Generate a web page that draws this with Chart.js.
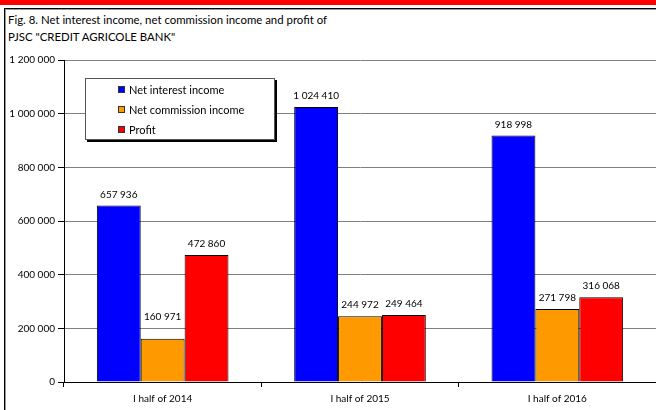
<!DOCTYPE html>
<html>
<head>
<meta charset="utf-8">
<script src="https://cdn.jsdelivr.net/npm/chart.js@4.4.1/dist/chart.umd.min.js"></script>
<style>
 body { margin: 0; background: #fff; }
 #wrap { position: relative; width: 656px; height: 410px; overflow: hidden; }
 #band { position: absolute; left: 0; top: 0; width: 656px; height: 5px; background: #ff0000; }
 #frame { position: absolute; left: 4px; top: 8px; width: 660px; height: 410px;
  border-left: 1px solid #000; border-top: 1px solid #000; box-shadow: inset 1px 1px 0 #999; }
 #title { position: absolute; left: 8px; top: 11px; font: 11.4px Lato, sans-serif; line-height: 17px; color: #000; }
 #chart { position: absolute; left: 0; top: 0; }
</style>
</head>
<body>
<div id="wrap">
 <div id="band"></div>
 <div id="frame"></div>
 <div id="title">Fig. 8. Net interest income, net commission income and profit of<br>PJSC "CREDIT AGRICOLE BANK"</div>
 <canvas id="chart" width="656" height="410"></canvas>
</div>
<script>
const periods = ["I half of 2014", "I half of 2015", "I half of 2016"];
const netInterest = [657936, 1024410, 918998];
const netCommission = [160971, 244972, 271798];
const profit = [472860, 249464, 316068];
const seriesNames = ["Net interest income", "Net commission income", "Profit"];
const yTicks = [0, 200000, 400000, 600000, 800000, 1000000, 1200000];

const fmt = (v) => String(v).replace(/\B(?=(\d{3})+(?!\d))/g, " ");
const FONT = "Lato, sans-serif";

// value labels above bars; lift a label clear of a gridline it would sit on
const valueLabels = {
 id: "valueLabels",
 afterDatasetsDraw(chart) {
  const ctx = chart.ctx;
  const yScale = chart.scales.y;
  const gridYs = yTicks.map((v) => yScale.getPixelForValue(v));
  ctx.save();
  ctx.font = "10px " + FONT;
  ctx.fillStyle = "#000";
  ctx.textAlign = "center";
  ctx.textBaseline = "middle";
  chart.data.datasets.forEach((ds, i) => {
   chart.getDatasetMeta(i).data.forEach((bar, j) => {
    let ty = bar.y - 11;
    if (gridYs.some((g) => Math.abs(g - ty) < 6)) ty = bar.y - 22;
    ctx.fillText(fmt(ds.data[j]), bar.x, ty);
   });
  });
  ctx.restore();
 },
};

const boxLegend = {
 id: "boxLegend",
 afterDraw(chart) {
  const ctx = chart.ctx;
  const x = 85, y = 78, w = 190, h = 62;
  ctx.save();
  ctx.fillStyle = "#000";
  ctx.fillRect(x + 2, y + 2, w, h);
  ctx.fillStyle = "#fff";
  ctx.fillRect(x, y, w, h);
  ctx.strokeStyle = "#555";
  ctx.lineWidth = 1;
  ctx.strokeRect(x + 0.5, y + 0.5, w - 1, h - 1);
  ctx.font = "11px " + FONT;
  ctx.textBaseline = "middle";
  chart.data.datasets.forEach((ds, i) => {
   const cy = y + 12 + i * 20;
   ctx.fillStyle = ds.backgroundColor;
   ctx.fillRect(118, cy - 4, 7, 7);
   ctx.strokeStyle = "#333";
   ctx.strokeRect(118.5, cy - 3.5, 6, 6);
   ctx.fillStyle = "#000";
   ctx.fillText(ds.label, 129, cy);
  });
  ctx.restore();
 },
};

new Chart(document.getElementById("chart"), {
 type: "bar",
 data: {
  labels: periods,
  datasets: [
   { label: seriesNames[0], data: netInterest, backgroundColor: "#0000ff" },
   { label: seriesNames[1], data: netCommission, backgroundColor: "#ff9900" },
   { label: seriesNames[2], data: profit, backgroundColor: "#ff0000" },
  ].map((d) => ({ ...d, borderColor: "#000", borderWidth: 1, categoryPercentage: 0.667, barPercentage: 1 })),
 },
 options: {
  responsive: false,
  animation: false,
  devicePixelRatio: 1,
  layout: { padding: { top: 60, left: 0, right: 0, bottom: 0 } },
  plugins: { legend: { display: false }, title: { display: false }, tooltip: { enabled: false } },
  scales: {
   x: {
    grid: { drawOnChartArea: false, tickLength: 5, color: "#000", offset: true },
    border: { color: "#000" },
    ticks: { color: "#000", font: { family: FONT, size: 10 }, padding: 6 },
    afterFit: (s) => { s.height = 28; },
   },
   y: {
    min: 0,
    max: 1200000,
    afterBuildTicks: (s) => { s.ticks = yTicks.map((v) => ({ value: v })); },
    grid: { color: "#808080", tickLength: 6, tickColor: "#000" },
    border: { color: "#000" },
    ticks: { color: "#000", font: { family: FONT, size: 10 }, padding: 3, callback: (v) => fmt(v) },
    afterFit: (s) => { s.width = 64; },
   },
  },
 },
 plugins: [valueLabels, boxLegend],
});
</script>
</body>
</html>
